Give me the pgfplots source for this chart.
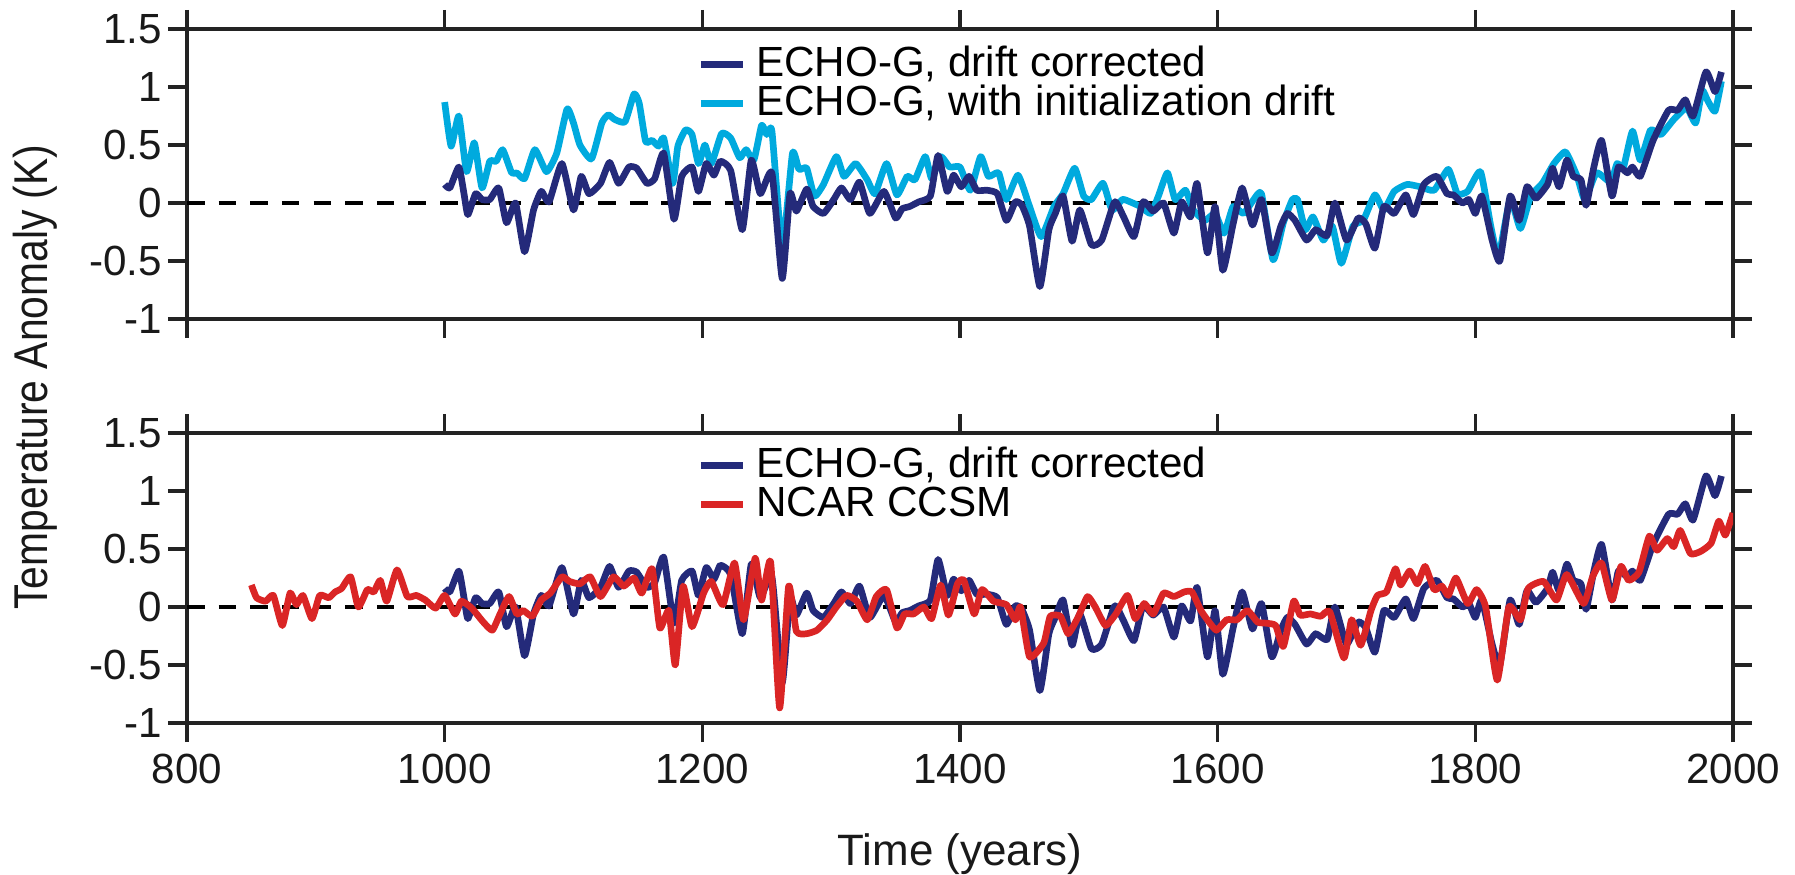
\documentclass[border=0pt]{standalone}
\usepackage{fontspec}
\setmainfont{Liberation Sans}
\usepackage{pgfplots}
\usepackage{pgfplotstable}
\pgfplotsset{compat=1.18}
\definecolor{echodark}{RGB}{36,42,122}
\definecolor{echolight}{RGB}{0,170,222}
\definecolor{ncarred}{RGB}{218,37,37}
\definecolor{axisgray}{RGB}{35,35,35}

\pgfplotstableread{
year val
1000 0.16
1004 0.13
1011 0.31
1015 0.08
1018 -0.10
1024 0.08
1029 0.03
1035 0.03
1042 0.13
1048 -0.17
1055 0.00
1062 -0.42
1069 -0.06
1075 0.10
1081 0.01
1091 0.34
1100 -0.06
1106 0.23
1112 0.08
1121 0.17
1128 0.35
1135 0.17
1143 0.31
1149 0.30
1157 0.17
1163 0.21
1170 0.43
1178 -0.14
1184 0.23
1192 0.31
1197 0.10
1203 0.34
1209 0.24
1214 0.36
1222 0.28
1231 -0.23
1238 0.37
1245 0.08
1254 0.26
1262 -0.65
1268 0.08
1273 -0.07
1281 0.12
1286 -0.03
1294 -0.09
1302 0.03
1308 0.13
1315 0.03
1322 0.18
1330 -0.09
1341 0.10
1350 -0.13
1355 -0.05
1361 -0.03
1368 0.01
1377 0.06
1383 0.41
1390 0.10
1395 0.24
1401 0.14
1407 0.23
1413 0.11
1421 0.11
1429 0.08
1436 -0.15
1443 0.01
1448 -0.02
1454 -0.20
1462 -0.72
1469 -0.23
1474 -0.09
1480 0.06
1487 -0.33
1493 -0.06
1502 -0.36
1510 -0.32
1520 0.01
1527 -0.12
1535 -0.29
1542 0.01
1550 -0.07
1558 0.00
1566 -0.26
1572 0.01
1579 -0.12
1584 0.17
1592 -0.43
1598 -0.03
1604 -0.58
1612 -0.18
1619 0.13
1627 -0.19
1634 0.03
1642 -0.43
1649 -0.20
1654 -0.09
1660 -0.15
1669 -0.32
1676 -0.23
1685 -0.28
1691 0.00
1700 -0.32
1709 -0.13
1715 -0.18
1722 -0.39
1729 -0.03
1737 -0.09
1746 0.07
1752 -0.10
1760 0.16
1770 0.23
1778 0.08
1783 0.07
1790 0.00
1795 0.03
1800 -0.09
1805 0.06
1813 -0.32
1819 -0.50
1827 0.06
1834 -0.15
1840 0.14
1847 0.04
1856 0.16
1860 0.30
1865 0.14
1871 0.37
1876 0.23
1882 0.20
1886 -0.02
1892 0.31
1898 0.54
1906 0.06
1911 0.31
1918 0.26
1922 0.31
1928 0.23
1938 0.54
1950 0.80
1957 0.80
1963 0.89
1969 0.75
1979 1.13
1986 0.96
1991 1.13
}\echocorr

\pgfplotstableread{
year val
1000 0.87
1005 0.49
1011 0.75
1017 0.27
1023 0.52
1029 0.13
1035 0.36
1040 0.36
1045 0.46
1052 0.26
1056 0.26
1062 0.21
1070 0.46
1079 0.27
1087 0.43
1095 0.81
1100 0.69
1105 0.50
1114 0.38
1122 0.69
1127 0.76
1132 0.72
1140 0.70
1147 0.94
1151 0.86
1156 0.53
1161 0.54
1166 0.49
1170 0.56
1177 0.17
1181 0.49
1187 0.63
1192 0.59
1197 0.34
1202 0.50
1207 0.34
1215 0.60
1222 0.56
1229 0.39
1234 0.46
1240 0.37
1246 0.67
1250 0.59
1254 0.62
1262 -0.38
1270 0.43
1275 0.29
1281 0.30
1287 0.06
1294 0.16
1304 0.40
1310 0.23
1319 0.34
1328 0.20
1334 0.08
1343 0.34
1351 0.07
1359 0.23
1365 0.20
1373 0.40
1378 0.21
1385 0.40
1392 0.31
1400 0.31
1408 0.11
1416 0.40
1422 0.23
1430 0.26
1436 0.03
1445 0.24
1454 -0.03
1463 -0.29
1473 -0.03
1480 0.08
1489 0.30
1496 0.06
1502 0.03
1511 0.17
1518 -0.06
1526 0.03
1532 0.01
1540 -0.03
1548 -0.09
1554 0.06
1561 0.26
1567 0.03
1575 0.11
1581 -0.06
1590 -0.15
1598 -0.09
1605 -0.26
1612 -0.03
1620 -0.09
1628 0.03
1634 0.08
1643 -0.49
1651 -0.17
1658 0.03
1662 0.03
1668 -0.23
1674 -0.12
1682 -0.32
1689 -0.20
1696 -0.52
1705 -0.20
1713 -0.15
1722 0.07
1729 -0.06
1737 0.10
1747 0.16
1757 0.14
1768 0.11
1779 0.29
1786 0.08
1794 0.10
1804 0.27
1812 -0.20
1818 -0.46
1827 0.03
1835 -0.22
1843 0.06
1852 0.17
1861 0.34
1870 0.44
1879 0.23
1885 0.03
1894 0.26
1905 0.18
1910 0.34
1915 0.31
1922 0.62
1928 0.37
1936 0.63
1944 0.59
1954 0.72
1964 0.82
1971 0.69
1976 0.97
1980 0.89
1986 0.79
1991 1.05
}\echodrift

\pgfplotstableread{
year val
850 0.19
854 0.08
861 0.05
867 0.10
874 -0.16
880 0.12
885 0.02
890 0.10
897 -0.10
903 0.10
910 0.08
915 0.13
920 0.16
927 0.26
933 0.00
940 0.15
945 0.13
950 0.23
955 0.05
963 0.32
971 0.09
978 0.10
985 0.06
993 -0.01
1000 0.10
1008 -0.06
1013 0.05
1021 -0.01
1030 -0.13
1037 -0.20
1043 -0.06
1050 0.09
1056 -0.06
1061 -0.03
1068 -0.08
1075 0.06
1082 0.12
1091 0.26
1097 0.22
1105 0.20
1113 0.26
1121 0.09
1131 0.26
1139 0.18
1147 0.25
1153 0.12
1161 0.33
1167 -0.18
1174 -0.03
1179 -0.50
1185 0.18
1192 -0.17
1201 0.12
1207 0.22
1216 0.02
1225 0.38
1232 -0.11
1241 0.42
1246 0.06
1253 0.39
1260 -0.87
1267 0.18
1273 -0.21
1281 -0.23
1289 -0.20
1297 -0.11
1304 0.00
1312 0.10
1320 0.05
1328 -0.11
1335 0.09
1343 0.15
1351 -0.18
1357 -0.06
1364 -0.06
1372 0.00
1378 -0.10
1385 0.19
1391 -0.07
1398 0.20
1403 0.23
1411 -0.06
1417 0.15
1426 0.05
1436 0.02
1443 -0.11
1447 0.00
1454 -0.43
1465 -0.31
1470 -0.08
1478 -0.08
1484 -0.23
1492 -0.08
1499 0.09
1505 0.00
1513 -0.16
1521 -0.06
1530 0.10
1536 -0.10
1543 0.03
1550 -0.06
1558 0.12
1566 0.09
1574 0.13
1580 0.13
1587 -0.03
1592 -0.11
1599 -0.20
1607 -0.11
1615 -0.11
1623 -0.03
1631 -0.13
1638 -0.14
1645 -0.16
1651 -0.34
1659 0.05
1664 -0.07
1672 -0.06
1680 -0.08
1687 -0.04
1698 -0.44
1704 -0.11
1711 -0.33
1719 -0.03
1724 0.10
1731 0.13
1738 0.33
1742 0.19
1749 0.31
1755 0.20
1761 0.35
1768 0.15
1774 0.18
1779 0.10
1785 0.25
1794 0.03
1801 0.15
1808 0.00
1817 -0.63
1826 0.00
1835 -0.11
1841 0.16
1853 0.22
1863 0.06
1871 0.28
1884 0.03
1891 0.26
1898 0.38
1906 0.06
1913 0.35
1919 0.23
1927 0.30
1935 0.61
1941 0.49
1949 0.59
1954 0.52
1959 0.66
1967 0.46
1975 0.48
1983 0.55
1989 0.74
1994 0.62
2000 0.81
}\ncar

\pgfplotsset{
  panel/.style={
    scale only axis, width=15.46cm, height=2.9cm,
    xmin=800, xmax=2000, ymin=-1, ymax=1.5,
    xtick={800,1000,1200,1400,1600,1800,2000},
    ytick={-1,-0.5,0,0.5,1,1.5},
    yticklabels={-1,-0.5,0,0.5,1,1.5},
    tick align=outside, major tick length=0.19cm,
    tick style={line width=0.9pt, color=axisgray},
    axis line style={line width=0.9pt, color=axisgray},
    ticklabel style={font=\fontsize{12}{14}\selectfont, text=black!90},
    yticklabel style={inner xsep=1.5pt},
    legend cell align=left,
    legend image code/.code={\draw[#1, line width=1.9pt] (0cm,0cm) -- (0.42cm,0cm);},
    legend style={draw=none, fill=none, anchor=north west,
      font=\fontsize{12}{12}\selectfont, row sep=0pt,
      nodes={inner sep=0pt, text height=8.9pt, text depth=2.2pt},
      /tikz/every odd column/.append style={column sep=0.1cm}},
    every axis plot/.append style={line width=1.9pt, line join=round, smooth, tension=0.3},
  },
}

\begin{document}
\begin{tikzpicture}
\path[use as bounding box] (0,0) rectangle (17.95cm,8.74cm);

\begin{axis}[panel, at={(1.87cm,5.55cm)}, anchor=south west,
  xticklabels={},
  legend style={at={(0.323,0.971)}}]
  \addlegendimage{echodark}
  \addlegendentry{ECHO-G, drift corrected}
  \addlegendimage{echolight}
  \addlegendentry{ECHO-G, with initialization drift}
  \addplot[black, line width=0.9pt, dash pattern=on 5pt off 4pt, forget plot] coordinates {(800,0) (2000,0)};
  \addplot[echolight, forget plot] table[x=year,y=val] {\echodrift};
  \addplot[echodark, forget plot] table[x=year,y=val] {\echocorr};
\end{axis}

\begin{axis}[panel, at={(1.87cm,1.51cm)}, anchor=south west,
  xticklabels={800,1000,1200,1400,1600,1800,2000},
  legend style={at={(0.323,0.981)}}]
  \addlegendimage{echodark}
  \addlegendentry{ECHO-G, drift corrected}
  \addlegendimage{ncarred}
  \addlegendentry{NCAR CCSM}
  \addplot[black, line width=0.9pt, dash pattern=on 5pt off 4pt, forget plot] coordinates {(800,0) (2000,0)};
  \addplot[echodark, forget plot] table[x=year,y=val] {\echocorr};
  \addplot[ncarred, forget plot] table[x=year,y=val] {\ncar};
\end{axis}

\node[anchor=base, font=\fontsize{12.5}{15}\selectfont, text=black!90] at (9.6cm,0.09cm) {Time (years)};
\node[rotate=90, font=\fontsize{13.5}{16}\selectfont, text=black!90] at (0.35cm,4.97cm) {\scalebox{0.86}[1]{Temperature Anomaly (K)}};
\end{tikzpicture}
\end{document}
